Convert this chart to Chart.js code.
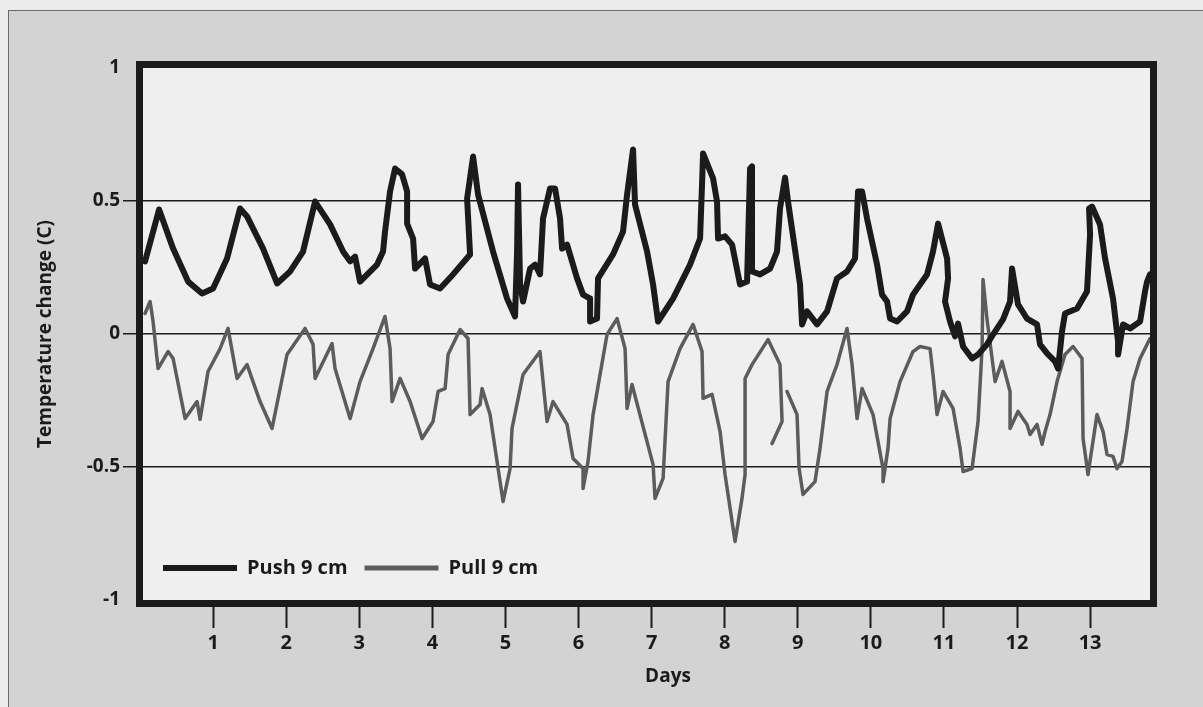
<!DOCTYPE html>
<html>
<head>
<meta charset="utf-8">
<script src="https://cdn.jsdelivr.net/npm/chart.js@4"></script>
<style>
  html, body { margin: 0; padding: 0; overflow: hidden; background: #ececec; }
  #frame { position: absolute; left: 8px; top: 10px; width: 1300px; height: 800px; border: 1px solid #6a6a6a; background: #d3d3d3; }
  #wrap { position: absolute; left: 0; top: 0; width: 1203px; height: 707px; }
</style>
</head>
<body>
<div id="frame"></div>
<div id="wrap"><canvas id="chart" width="1203" height="707"></canvas></div>
<script>
// Data (days, temperature change in C)
const dayTicks = [1, 2, 3, 4, 5, 6, 7, 8, 9, 10, 11, 12, 13];
const tempTicks = [-1, -0.5, 0, 0.5, 1];

const pushDays = [0.068,0.26,0.452,0.657,0.848,0.999,1.19,1.368,1.464,1.683,
  1.875,2.053,2.23,2.395,2.6,2.778,2.874,2.942,3.01,3.243,
  3.325,3.352,3.421,3.489,3.585,3.654,3.654,3.736,3.763,3.9,
  3.968,4.105,4.283,4.516,4.475,4.557,4.625,4.83,5.022,5.131,
  5.159,5.172,5.2,5.241,5.337,5.405,5.473,5.514,5.61,5.679,
  5.747,5.775,5.843,5.98,6.062,6.158,6.158,6.253,6.267,6.472,
  6.609,6.664,6.746,6.773,6.938,7.02,7.088,7.293,7.526,7.663,
  7.69,7.704,7.841,7.895,7.909,8.005,8.101,8.21,8.306,8.347,
  8.374,8.374,8.484,8.621,8.716,8.757,8.826,8.867,9.031,9.059,
  9.127,9.264,9.401,9.537,9.674,9.784,9.825,9.88,9.948,10.085,
  10.153,10.222,10.263,10.359,10.495,10.577,10.769,10.851,10.92,11.043,
  11.057,11.015,11.084,11.152,11.193,11.262,11.385,11.467,11.59,11.672,
  11.809,11.905,11.932,12.014,12.137,12.274,12.315,12.411,12.52,12.562,
  12.616,12.657,12.822,12.958,13.0,12.986,13.027,13.136,13.205,13.314,
  13.383,13.383,13.451,13.547,13.684,13.752,13.78,13.82];
const pushTemp = [0.273,0.468,0.321,0.197,0.152,0.171,0.284,0.472,0.442,0.321,
  0.19,0.235,0.31,0.498,0.412,0.31,0.273,0.291,0.197,0.261,
  0.31,0.385,0.536,0.622,0.6,0.536,0.415,0.359,0.246,0.284,
  0.186,0.171,0.224,0.299,0.509,0.667,0.524,0.31,0.133,0.066,
  0.31,0.562,0.186,0.122,0.246,0.261,0.224,0.434,0.547,0.547,
  0.434,0.321,0.336,0.209,0.148,0.133,0.047,0.058,0.209,0.299,
  0.385,0.524,0.694,0.487,0.31,0.186,0.047,0.133,0.261,0.359,
  0.562,0.679,0.585,0.498,0.359,0.367,0.336,0.186,0.197,0.622,
  0.63,0.235,0.224,0.246,0.31,0.472,0.588,0.498,0.186,0.036,
  0.085,0.036,0.085,0.209,0.235,0.284,0.536,0.536,0.434,0.261,
  0.148,0.122,0.058,0.047,0.085,0.148,0.224,0.31,0.415,0.284,
  0.209,0.122,0.047,-0.009,0.039,-0.047,-0.092,-0.077,-0.039,-0.002,
  0.055,0.122,0.246,0.111,0.058,0.036,-0.039,-0.073,-0.103,-0.13,
  0.009,0.077,0.096,0.16,0.374,0.472,0.479,0.412,0.284,0.133,
  -0.028,-0.077,0.036,0.021,0.047,0.16,0.197,0.224];

const pullDays = [0.068,0.137,0.178,0.246,0.383,0.452,0.616,0.78,0.821,0.93,
  1.095,1.204,1.327,1.464,1.642,1.806,2.011,2.258,2.367,2.395,
  2.627,2.668,2.874,3.01,3.188,3.352,3.421,3.448,3.558,3.695,
  3.859,4.009,4.078,4.174,4.215,4.379,4.488,4.516,4.652,4.68,
  4.789,4.967,5.063,5.09,5.241,5.473,5.569,5.651,5.843,5.925,
  6.062,6.062,6.13,6.199,6.39,6.527,6.637,6.664,6.732,7.02,
  7.047,7.157,7.225,7.389,7.567,7.69,7.704,7.827,7.937,8.005,
  8.142,8.237,8.279,8.279,8.374,8.593,8.757,8.785,8.648,8.75,
  8.853,8.99,9.018,9.072,9.236,9.305,9.401,9.537,9.674,9.743,
  9.811,9.88,10.03,10.167,10.167,10.235,10.263,10.4,10.577,10.673,
  10.81,10.851,10.906,10.988,11.125,11.221,11.262,11.385,11.467,11.522,
  11.535,11.59,11.7,11.795,11.905,11.905,12.014,12.137,12.179,12.274,
  12.343,12.384,12.452,12.548,12.657,12.767,12.89,12.904,12.972,13.095,
  13.178,13.232,13.314,13.369,13.437,13.506,13.588,13.684,13.82];
const pullTemp = [0.077,0.122,0.047,-0.13,-0.066,-0.092,-0.318,-0.254,-0.321,-0.141,
  -0.055,0.021,-0.167,-0.115,-0.254,-0.355,-0.077,0.021,-0.039,-0.167,
  -0.036,-0.13,-0.318,-0.179,-0.055,0.066,-0.055,-0.254,-0.167,-0.254,
  -0.393,-0.329,-0.216,-0.205,-0.077,0.017,-0.017,-0.303,-0.265,-0.205,
  -0.303,-0.63,-0.506,-0.355,-0.152,-0.066,-0.329,-0.254,-0.34,-0.468,
  -0.506,-0.581,-0.479,-0.303,-0.002,0.058,-0.055,-0.28,-0.19,-0.491,
  -0.618,-0.543,-0.179,-0.055,0.036,-0.066,-0.242,-0.227,-0.367,-0.528,
  -0.78,-0.618,-0.528,-0.167,-0.115,-0.021,-0.115,-0.329,-0.412,null,
  -0.216,-0.303,-0.506,-0.603,-0.555,-0.43,-0.216,-0.115,0.021,-0.115,
  -0.318,-0.205,-0.303,-0.506,-0.555,-0.43,-0.318,-0.179,-0.066,-0.047,
  -0.055,-0.152,-0.303,-0.216,-0.28,-0.43,-0.517,-0.506,-0.329,-0.055,
  0.205,0.055,-0.179,-0.103,-0.216,-0.355,-0.291,-0.34,-0.378,-0.34,
  -0.415,-0.367,-0.303,-0.179,-0.077,-0.047,-0.092,-0.393,-0.528,-0.303,
  -0.367,-0.453,-0.46,-0.506,-0.479,-0.355,-0.179,-0.092,-0.017];

const INK = '#1b1b1b';
const FONT = 'Open Sans';

// plot area background
const plotBg = {
  id: 'plotBg',
  beforeDraw(chart) {
    const { ctx, chartArea: a } = chart;
    ctx.save();
    ctx.fillStyle = '#efefef';
    ctx.fillRect(a.left, a.top, a.width, a.height);
    ctx.restore();
  }
};

// legend drawn inside the plot, bottom left
const insideLegend = {
  id: 'insideLegend',
  afterDatasetsDraw(chart) {
    const { ctx, chartArea: a } = chart;
    const y = a.bottom - 32;
    let x = a.left + 20;
    ctx.save();
    ctx.font = `bold 20px "${FONT}"`;
    ctx.textBaseline = 'middle';
    ctx.lineCap = 'butt';
    chart.data.datasets.forEach(ds => {
      ctx.strokeStyle = ds.borderColor;
      ctx.lineWidth = ds.legendWidth;
      ctx.beginPath(); ctx.moveTo(x, y); ctx.lineTo(x + 74, y); ctx.stroke();
      x += 84;
      ctx.fillStyle = INK;
      ctx.fillText(ds.label, x, y);
      x += ctx.measureText(ds.label).width + 17;
    });
    ctx.restore();
  }
};

// thick frame round the plot, and the x title a little right of centre
const plotFrame = {
  id: 'plotFrame',
  afterDraw(chart) {
    const { ctx, chartArea: a } = chart;
    ctx.save();
    ctx.strokeStyle = INK;
    ctx.lineWidth = 7;
    ctx.strokeRect(a.left - 3.5, a.top - 3.5, a.width + 7, a.height + 7);
    ctx.fillStyle = INK;
    ctx.font = `bold 19px "${FONT}"`;
    ctx.textAlign = 'center';
    ctx.textBaseline = 'middle';
    ctx.fillText('Days', a.left + 525, a.bottom + 77);
    ctx.restore();
  }
};

const toPoints = (xs, ys) => xs.map((x, i) => ({ x, y: ys[i] }));

new Chart(document.getElementById('chart').getContext('2d'), {
  type: 'line',
  data: {
    datasets: [
      { label: 'Push 9 cm', data: toPoints(pushDays, pushTemp), borderColor: '#1b1b1b', borderWidth: 6, legendWidth: 6 },
      { label: 'Pull 9 cm', data: toPoints(pullDays, pullTemp), borderColor: '#5c5c5c', borderWidth: 3.5, legendWidth: 5 }
    ]
  },
  options: {
    responsive: false,
    animation: false,
    layout: { padding: { top: 68, right: 53, bottom: 0, left: 0 } },
    elements: { point: { radius: 0 }, line: { tension: 0, fill: false, borderJoinStyle: 'round', borderCapStyle: 'round' } },
    scales: {
      x: {
        type: 'linear', min: 0.04, max: 13.82,
        afterBuildTicks: s => { s.ticks = dayTicks.map(v => ({ value: v })); },
        afterFit: s => { s.height = 107; },
        border: { display: false },
        grid: { drawOnChartArea: false, drawTicks: true, tickLength: 28, tickColor: INK, tickWidth: 2 },
        ticks: { autoSkip: false, maxRotation: 0, color: INK, padding: 3, font: { family: FONT, size: 20, weight: 'bold' } },
        title: { display: false, text: 'Days' }
      },
      y: {
        min: -1, max: 1,
        afterBuildTicks: s => { s.ticks = tempTicks.map(v => ({ value: v })); },
        afterFit: s => { s.width = 143; },
        border: { display: false },
        grid: {
          color: c => (Math.abs(c.tick.value) === 1 ? 'rgba(0,0,0,0)' : INK),
          lineWidth: 1.5, drawTicks: true, tickLength: 20
        },
        ticks: { color: INK, padding: 3, callback: v => String(v), font: { family: FONT, size: 19, weight: 'bold' } },
        title: { display: true, text: 'Temperature change (C)', color: INK, padding: { top: 34, bottom: 0 }, font: { family: FONT, size: 19, weight: 'bold' } }
      }
    },
    plugins: { legend: { display: false }, tooltip: { enabled: false } }
  },
  plugins: [plotBg, insideLegend, plotFrame]
});
</script>
</body>
</html>
